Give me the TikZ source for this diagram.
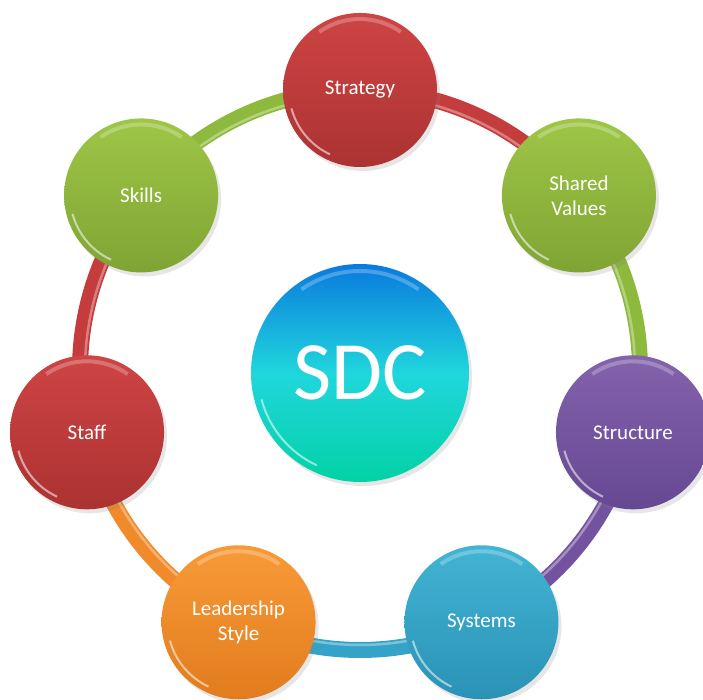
\documentclass[tikz,border=0pt]{standalone}
\usepackage{fontspec}
\setmainfont{Carlito}
\usetikzlibrary{shadows}

\definecolor{redtop}{HTML}{CE4444}
\definecolor{redbot}{HTML}{AC3232}
\definecolor{redring}{HTML}{C43C3C}
\definecolor{greentop}{HTML}{9EC646}
\definecolor{greenbot}{HTML}{80A434}
\definecolor{greenring}{HTML}{8DB93D}
\definecolor{purpletop}{HTML}{8462AC}
\definecolor{purplebot}{HTML}{664892}
\definecolor{purplering}{HTML}{7353A0}
\definecolor{bluetop}{HTML}{42B4D4}
\definecolor{bluebot}{HTML}{2A92B6}
\definecolor{bluering}{HTML}{35A3C8}
\definecolor{orangetop}{HTML}{F89A38}
\definecolor{orangebot}{HTML}{E27C1E}
\definecolor{orangering}{HTML}{F08A2A}
\definecolor{sdctop}{HTML}{0A7ADE}
\definecolor{sdcmid}{HTML}{20D6DC}
\definecolor{sdcbot}{HTML}{02D2A6}

\pgfdeclarelayer{bg}
\pgfsetlayers{bg,main}

\tikzset{
    glossy/.style={path picture={
        \draw[white, opacity=.55, line width=2pt]
            ([shift={(195:#1pt)}]path picture bounding box.center)
            arc[start angle=195, end angle=245, radius=#1pt];
        \draw[white, opacity=.25, line width=4pt]
            ([shift={(55:#1pt)}]path picture bounding box.center)
            arc[start angle=55, end angle=125, radius=#1pt];
    }},
    ball/.style={circle, minimum size=154pt, inner sep=0pt, text=white,
        align=center, font=\fontsize{21}{25}\selectfont,
        top color=#1top, bottom color=#1bot, glossy=71,
        drop shadow={opacity=.2, shadow xshift=3pt, shadow yshift=-4pt}},
    hub/.style={circle, minimum size=218pt, inner sep=0pt, text=white,
        font=\fontsize{83}{90}\selectfont,
        top color=sdctop, bottom color=sdcbot, middle color=sdcmid, glossy=102,
        drop shadow={opacity=.2, shadow xshift=3pt, shadow yshift=-4pt}},
}

% ring piece from one ball to the next one, clockwise
\newcommand{\ringpiece}[3]{%
    \draw[line width=16pt, #3] (#1.center)
        arc[start angle=#2, delta angle=-51.43, radius=280pt];
    \draw[line width=2.5pt, white, opacity=.35] ([shift={(#2+180:5pt)}]#1.center)
        arc[start angle=#2, delta angle=-51.43, radius=275pt];
}

\begin{document}
\begin{tikzpicture}[x=1pt, y=1pt]
    \useasboundingbox (0,0) rectangle (703,700);
    \coordinate (ring) at (360,330);

    \node[hub] (sdc) at (360,327) {SDC};

    \node[ball=red] (strategy) at ([shift={(90:280pt)}]ring) {Strategy};
    \node[ball=green] (shared) at ([shift={(38.57:280pt)}]ring) {Shared\\Values};
    \node[ball=purple] (structure) at ([shift={(-12.86:280pt)}]ring) {Structure};
    \node[ball=blue] (systems) at ([shift={(-64.29:280pt)}]ring) {Systems};
    \node[ball=orange] (leader) at ([shift={(-115.71:280pt)}]ring) {Leadership\\Style};
    \node[ball=red] (staff) at ([shift={(-167.14:280pt)}]ring) {Staff};
    \node[ball=green] (skills) at ([shift={(141.43:280pt)}]ring) {Skills};

    \begin{pgfonlayer}{bg}
        \ringpiece{strategy}{90}{redring}
        \ringpiece{shared}{38.57}{greenring}
        \ringpiece{structure}{-12.86}{purplering}
        \ringpiece{systems}{-64.29}{bluering}
        \ringpiece{leader}{-115.71}{orangering}
        \ringpiece{staff}{-167.14}{redring}
        \ringpiece{skills}{141.43}{greenring}
    \end{pgfonlayer}
\end{tikzpicture}
\end{document}
